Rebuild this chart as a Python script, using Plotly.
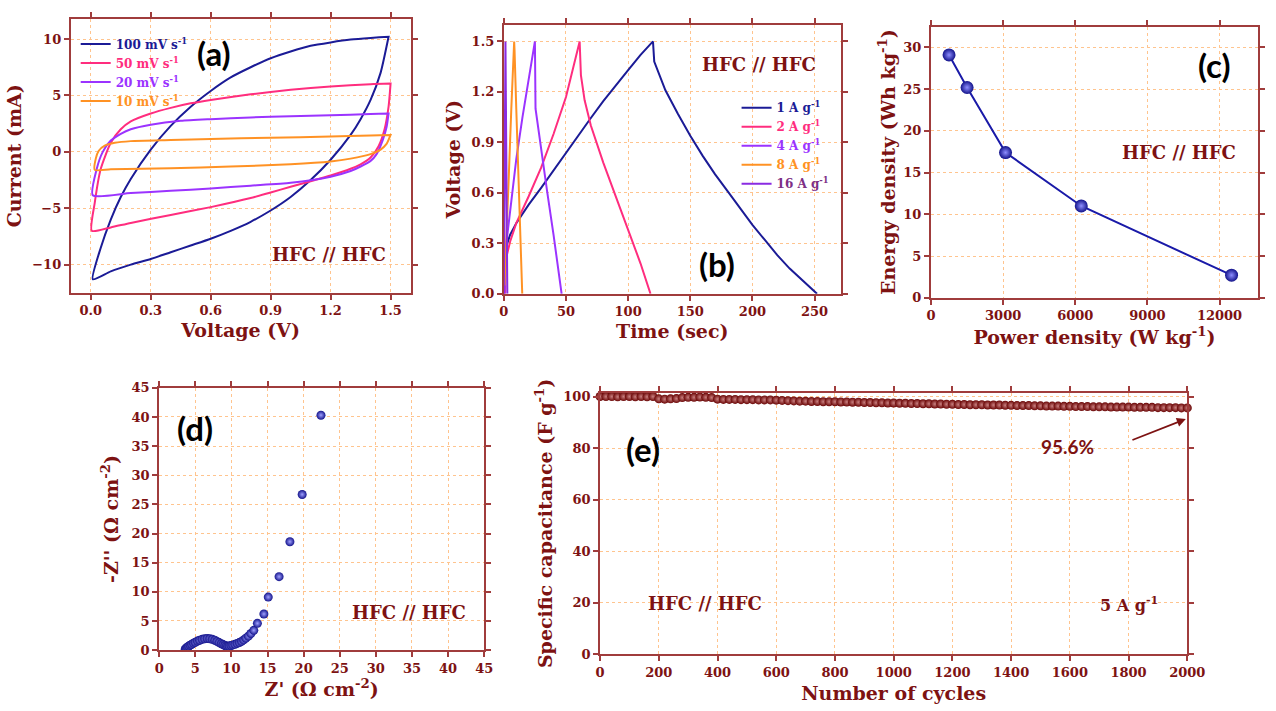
import plotly.graph_objects as go

# ---------------- data ----------------
# (a) cyclic voltammetry loops: anodic (upper) and cathodic (lower) branches
cv100_up_v = [0.01, 0.05, 0.1, 0.15, 0.2, 0.3, 0.4, 0.5, 0.6, 0.7, 0.8, 0.9, 1.0, 1.1, 1.2, 1.3, 1.4, 1.49]
cv100_up_i = [-11.3, -8.5, -6.0, -4.0, -2.4, 0.2, 2.3, 4.0, 5.4, 6.6, 7.5, 8.3, 8.9, 9.4, 9.7, 9.95, 10.1, 10.2]
cv100_dn_v = [1.49, 1.45, 1.4, 1.35, 1.3, 1.2, 1.1, 1.0, 0.9, 0.8, 0.7, 0.6, 0.5, 0.4, 0.3, 0.2, 0.1, 0.01]
cv100_dn_i = [10.2, 7.0, 4.6, 2.9, 1.5, -0.7, -2.5, -4.0, -5.2, -6.2, -7.0, -7.7, -8.3, -8.9, -9.5, -10.0, -10.6, -11.3]

cv50_up_v = [0.005, 0.02, 0.05, 0.1, 0.15, 0.2, 0.3, 0.4, 0.5, 0.6, 0.8, 1.0, 1.2, 1.4, 1.5]
cv50_up_i = [-7.0, -4.5, -1.5, 0.8, 2.0, 2.7, 3.4, 3.9, 4.3, 4.6, 5.1, 5.5, 5.8, 6.0, 6.05]
cv50_dn_v = [1.5, 1.49, 1.47, 1.44, 1.4, 1.35, 1.3, 1.2, 1.1, 1.0, 0.9, 0.8, 0.6, 0.4, 0.2, 0.1, 0.005]
cv50_dn_i = [6.05, 4.0, 2.0, 0.5, -0.5, -1.1, -1.5, -2.1, -2.6, -3.1, -3.6, -4.1, -4.9, -5.6, -6.3, -6.7, -7.0]

cv20_up_v = [0.01, 0.03, 0.06, 0.1, 0.15, 0.2, 0.3, 0.45, 0.6, 0.8, 1.0, 1.2, 1.4, 1.49]
cv20_up_i = [-3.85, -1.5, 0.0, 1.0, 1.6, 2.0, 2.4, 2.75, 2.9, 3.05, 3.15, 3.25, 3.35, 3.4]
cv20_dn_v = [1.49, 1.48, 1.46, 1.43, 1.4, 1.35, 1.3, 1.2, 1.0, 0.8, 0.6, 0.4, 0.2, 0.01]
cv20_dn_i = [3.4, 2.2, 1.0, -0.2, -0.8, -1.3, -1.7, -2.2, -2.75, -3.0, -3.25, -3.45, -3.65, -3.85]

cv10_up_v = [0.02, 0.025, 0.04, 0.07, 0.12, 0.2, 0.4, 0.6, 0.9, 1.2, 1.4, 1.5]
cv10_up_i = [-1.6, -0.6, 0.1, 0.55, 0.8, 0.95, 1.05, 1.15, 1.25, 1.35, 1.45, 1.5]
cv10_dn_v = [1.5, 1.48, 1.45, 1.4, 1.3, 1.2, 1.0, 0.7, 0.4, 0.1, 0.02]
cv10_dn_i = [1.5, 0.7, 0.2, -0.2, -0.6, -0.85, -1.1, -1.3, -1.45, -1.55, -1.6]

cv_labels = ["100 mV s<sup>-1</sup>", "50 mV s<sup>-1</sup>", "20 mV s<sup>-1</sup>", "10 mV s<sup>-1</sup>"]

# (b) galvanostatic charge-discharge
gcd1_t = [1.5, 5, 10, 20, 30, 40, 50, 60, 70, 80, 90, 100, 110, 120, 121, 125, 130, 140, 150, 160, 170, 180, 190, 200, 210, 220, 230, 240, 252]
gcd1_v = [0.27, 0.35, 0.42, 0.53, 0.63, 0.735, 0.84, 0.945, 1.045, 1.145, 1.24, 1.33, 1.42, 1.5, 1.38, 1.3, 1.21, 1.07, 0.94, 0.82, 0.71, 0.61, 0.51, 0.41, 0.32, 0.23, 0.15, 0.08, 0.0]
gcd2_t = [1.0, 1.5, 5, 10, 20, 30, 40, 50, 61, 62, 65, 70, 80, 90, 100, 110, 118]
gcd2_v = [0.0, 0.2, 0.31, 0.42, 0.58, 0.75, 0.95, 1.17, 1.5, 1.3, 1.15, 1.0, 0.78, 0.58, 0.38, 0.18, 0.0]
gcd4_t = [0.5, 0.8, 2, 5, 10, 15, 20, 25, 25.5, 30, 35, 40, 46.5]
gcd4_v = [0.0, 0.1, 0.3, 0.5, 0.8, 1.05, 1.27, 1.5, 1.1, 0.85, 0.6, 0.35, 0.0]
gcd8_t = [0.5, 2, 4, 6, 8.3, 8.6, 10, 12, 14.8]
gcd8_v = [0.05, 0.3, 0.7, 1.1, 1.5, 1.45, 1.1, 0.65, 0.0]
gcd16_t = [0.0, 0.3, 1.3, 1.6, 2.8]
gcd16_v = [0.0, 0.4, 1.5, 1.2, 0.0]
gcd_labels = ["1 A g<sup>-1</sup>", "2 A g<sup>-1</sup>", "4 A g<sup>-1</sup>", "8 A g<sup>-1</sup>", "16 A g<sup>-1</sup>"]

# (c) Ragone plot
power_density = [750, 1500, 3100, 6250, 12500]
energy_density = [29.1, 25.2, 17.4, 11.0, 2.7]

# (d) Nyquist plot
z_real = [3.6, 3.7, 3.8, 3.95, 4.1, 4.3, 4.5, 4.75, 5.0, 5.3, 5.6, 5.95, 6.3, 6.65, 7.0, 7.35, 7.7, 8.0, 8.3,
          8.6, 8.85, 9.1, 9.3, 9.5, 9.7, 9.95, 10.2, 10.5, 10.8, 11.1, 11.4, 11.7, 12.0, 12.35, 12.7, 13.1,
          13.6, 14.5, 15.1, 16.6, 18.1, 19.8, 22.4]
z_imag = [0.1, 0.25, 0.4, 0.55, 0.7, 0.85, 1.0, 1.2, 1.35, 1.55, 1.7, 1.85, 1.95, 2.0, 1.95, 1.85, 1.7, 1.5, 1.3,
          1.1, 0.95, 0.8, 0.7, 0.65, 0.7, 0.8, 0.9, 1.0, 1.15, 1.3, 1.5, 1.75, 2.05, 2.4, 2.85, 3.4,
          4.6, 6.2, 9.1, 12.6, 18.6, 26.7, 40.3]

# (e) cycling stability
cycles = list(range(0, 2001, 20))
capacitance = [100.0, 100.0, 100.0, 99.9, 100.0, 100.0, 99.9, 100.0, 99.9, 100.0,
               99.1, 99.0, 99.1, 99.2,
               99.6, 99.7, 99.7, 99.8, 99.7, 99.6,
               99.0, 98.9, 98.9, 98.9, 98.8, 98.8, 98.8, 98.7, 98.7, 98.7,
               98.6, 98.5, 98.4, 98.3, 98.2, 98.2, 98.1, 98.1, 98.0, 98.0,
               98.0, 97.9, 97.9, 97.8, 97.8, 97.7, 97.7, 97.6, 97.6, 97.5,
               97.5, 97.4, 97.4, 97.3, 97.3, 97.2, 97.2, 97.1, 97.1, 97.0,
               97.0, 96.9, 96.9, 96.8, 96.8, 96.8, 96.7, 96.7, 96.7, 96.6,
               96.6, 96.5, 96.5, 96.5, 96.4, 96.4, 96.3, 96.3, 96.3, 96.2,
               96.2, 96.1, 96.1, 96.1, 96.0, 96.0, 96.0, 95.9, 95.9, 95.9,
               95.9, 95.8, 95.8, 95.8, 95.8, 95.7, 95.7, 95.7, 95.7, 95.6, 95.6]

# ---------------- style ----------------
W, H = 1276, 711
SERIF = "DejaVu Serif"
SANS = "Lato"
DR = "#7d1212"
LC = "#a03c3c"
GC = "#ffc48e"
BLUE, PINK, PURPLE, ORANGE, VIOLET = "#1b1b96", "#ff2d7e", "#9b33ff", "#ff9224", "#8a2be2"
VIOLET_TXT = "#7d2f86"


def px(x):
    return x / W


def py(y):
    return 1 - y / H


def axis(dom, rng, dtick, title, standoff, fmt=None):
    d = dict(domain=dom, range=rng, dtick=dtick, tick0=0,
             title=dict(text=title, standoff=standoff,
                        font=dict(family=SERIF, size=19, color=DR, weight="bold")),
             showline=True, linecolor=LC, linewidth=2, mirror="allticks",
             ticks="outside", ticklen=5, tickwidth=1.5, tickcolor=LC,
             tickfont=dict(family=SERIF, size=13, color=DR, weight="bold"),
             showgrid=True, gridcolor=GC, griddash="dot", gridwidth=1.2, zeroline=False)
    if fmt:
        d["tickformat"] = fmt
    return d


fig = go.Figure()

# (a)
cv_sets = [(cv100_up_v, cv100_up_i, cv100_dn_v, cv100_dn_i, BLUE),
           (cv50_up_v, cv50_up_i, cv50_dn_v, cv50_dn_i, PINK),
           (cv20_up_v, cv20_up_i, cv20_dn_v, cv20_dn_i, PURPLE),
           (cv10_up_v, cv10_up_i, cv10_dn_v, cv10_dn_i, ORANGE)]
for (uv, ui, dv, di, col), lab in zip(cv_sets, cv_labels):
    fig.add_trace(go.Scatter(x=uv + dv, y=ui + di, mode="lines", line=dict(color=col, width=2, shape="spline", smoothing=0.6),
                             name=f"<span style='color:{col}'>{lab}</span>", xaxis="x", yaxis="y", legend="legend"))

# (b)
gcd_sets = [(gcd1_t, gcd1_v, BLUE, BLUE), (gcd2_t, gcd2_v, PINK, PINK), (gcd4_t, gcd4_v, PURPLE, PURPLE),
            (gcd8_t, gcd8_v, ORANGE, ORANGE), (gcd16_t, gcd16_v, VIOLET, VIOLET_TXT)]
for (t, v, col, tcol), lab in zip(gcd_sets, gcd_labels):
    fig.add_trace(go.Scatter(x=t, y=v, mode="lines", line=dict(color=col, width=2),
                             name=f"<span style='color:{tcol}'>{lab}</span>", xaxis="x2", yaxis="y2", legend="legend2"))

# (c)
fig.add_trace(go.Scatter(x=power_density, y=energy_density, mode="lines+markers",
                         line=dict(color="#1a1aa8", width=2),
                         marker=dict(size=13, color="#12128a", line=dict(width=0),
                                     gradient=dict(type="radial", color="#8f8fff")),
                         showlegend=False, xaxis="x3", yaxis="y3"))

# (d)
fig.add_trace(go.Scatter(x=z_real, y=z_imag, mode="markers",
                         marker=dict(size=9, color="#14148c", line=dict(width=0),
                                     gradient=dict(type="radial", color="#a0a0ff")),
                         showlegend=False, xaxis="x4", yaxis="y4"))

# (e)
fig.add_trace(go.Scatter(x=cycles, y=capacitance, mode="markers", cliponaxis=False,
                         marker=dict(size=9, color="#6a0505", line=dict(width=0),
                                     gradient=dict(type="radial", color="#c98080")),
                         showlegend=False, xaxis="x5", yaxis="y5"))

# domains in pixels
A = dict(x=(67, 413), y=(12, 292))
B = dict(x=(508, 851), y=(18, 293))
C = dict(x=(943, 1276), y=(20, 297))
D = dict(x=(157, 488), y=(389, 657))
E = dict(x=(606, 1204), y=(394, 661))


def dx(p):
    return [px(p["x"][0]), px(p["x"][1])]


def dy(p):
    return [py(p["y"][1]), py(p["y"][0])]


fig.update_layout(
    width=W, height=H, margin=dict(l=0, r=0, t=0, b=0),
    paper_bgcolor="white", plot_bgcolor="white",
    xaxis=dict(axis(dx(A), [-0.1, 1.6], 0.3, "Voltage (V)", 6, ".1f"), anchor="y"),
    yaxis=dict(axis(dy(A), [-12.5, 11.8], 5, "Current (mA)", 6), anchor="x"),
    xaxis2=dict(axis(dx(B), [0, 271], 50, "Time (sec)", 6), anchor="y2"),
    yaxis2=dict(axis(dy(B), [0, 1.6], 0.3, "Voltage (V)", 6, ".1f"), anchor="x2"),
    xaxis3=dict(axis(dx(C), [0, 13600], 3000, "Power density (W kg<sup>-1</sup>)", 8, "d"), anchor="y3"),
    yaxis3=dict(axis(dy(C), [0, 32.5], 5, "Energy density (Wh kg<sup>-1</sup>)", 3), anchor="x3"),
    xaxis4=dict(axis(dx(D), [0, 45], 5, "Z' (Ω cm<sup>-2</sup>)", 8), anchor="y4"),
    yaxis4=dict(axis(dy(D), [0, 45], 5, "-Z'' (Ω cm<sup>-2</sup>)", 8), anchor="x4"),
    xaxis5=dict(axis(dx(E), [0, 2000], 200, "Number of cycles", 8), anchor="y5"),
    yaxis5=dict(axis(dy(E), [0, 101.5], 20, "Specific capacitance (F g<sup>-1</sup>)", 6), anchor="x5"),
    legend=dict(x=px(72), y=py(23), xanchor="left", yanchor="top", bgcolor="rgba(0,0,0,0)",
                font=dict(family=SERIF, size=12, weight="bold"), itemwidth=30, tracegroupgap=0),
    legend2=dict(x=px(745), y=py(88), xanchor="left", yanchor="top", bgcolor="rgba(0,0,0,0)",
                 font=dict(family=SERIF, size=12, weight="bold"), itemwidth=30, tracegroupgap=0),
)

ann = []


def label(text, x, y, size=33, color="black", family=SANS):
    ann.append(dict(text=text, x=px(x), y=py(y), xref="paper", yref="paper", showarrow=False,
                    xanchor="center", yanchor="middle",
                    font=dict(family=family, size=size, color=color, weight="bold")))


label("(a)", 213, 47)
label("(b)", 725, 263)
label("(c)", 1232, 59)
label("(d)", 193, 430)
label("(e)", 650, 452)
for x, y in [(330, 253), (768, 59), (1196, 149), (411, 619), (713, 609)]:
    label("HFC // HFC", x, y, size=18, color=DR, family=SERIF)
label("5 A g<sup>-1</sup>", 1145, 610, size=16, color=DR, family=SERIF)
ann.append(dict(text="95.6%", x=px(1111), y=py(449), xref="paper", yref="paper", showarrow=False,
                font=dict(family=SANS, size=19, color=DR, weight="bold")))
ann.append(dict(text="", x=1995, y=91.3, xref="x5", yref="y5", ax=1808, ay=82.9, axref="x5", ayref="y5",
                showarrow=True, arrowhead=2, arrowsize=1, arrowwidth=1.8, arrowcolor=DR))
fig.update_layout(annotations=ann)

fig.write_html("out.html")
